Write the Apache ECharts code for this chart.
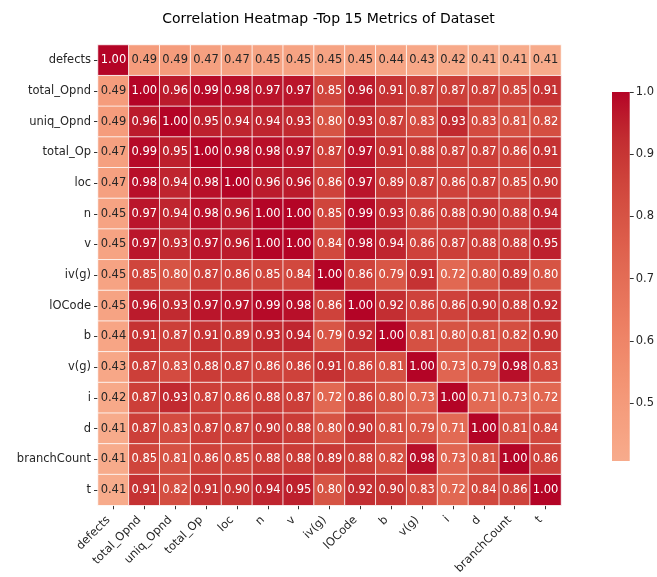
<!DOCTYPE html>
<html>
<head>
<meta charset="utf-8">
<script src="https://cdn.jsdelivr.net/npm/echarts@6/dist/echarts.min.js"></script>
<style>
  html, body { margin: 0; padding: 0; background: #fff; }
  #chart { width: 657px; height: 577px; }
</style>
</head>
<body>
<div id="chart"></div>
<script>
// Metric names, in the order used for both axes
const metrics = ['defects', 'total_Opnd', 'uniq_Opnd', 'total_Op', 'loc', 'n', 'v', 'iv(g)',
  'lOCode', 'b', 'v(g)', 'i', 'd', 'branchCount', 't'];

// Correlation matrix rows (row i = metrics[i])
const rowDefects     = [1.00, 0.49, 0.49, 0.47, 0.47, 0.45, 0.45, 0.45, 0.45, 0.44, 0.43, 0.42, 0.41, 0.41, 0.41];
const rowTotalOpnd   = [0.49, 1.00, 0.96, 0.99, 0.98, 0.97, 0.97, 0.85, 0.96, 0.91, 0.87, 0.87, 0.87, 0.85, 0.91];
const rowUniqOpnd    = [0.49, 0.96, 1.00, 0.95, 0.94, 0.94, 0.93, 0.80, 0.93, 0.87, 0.83, 0.93, 0.83, 0.81, 0.82];
const rowTotalOp     = [0.47, 0.99, 0.95, 1.00, 0.98, 0.98, 0.97, 0.87, 0.97, 0.91, 0.88, 0.87, 0.87, 0.86, 0.91];
const rowLoc         = [0.47, 0.98, 0.94, 0.98, 1.00, 0.96, 0.96, 0.86, 0.97, 0.89, 0.87, 0.86, 0.87, 0.85, 0.90];
const rowN           = [0.45, 0.97, 0.94, 0.98, 0.96, 1.00, 1.00, 0.85, 0.99, 0.93, 0.86, 0.88, 0.90, 0.88, 0.94];
const rowV           = [0.45, 0.97, 0.93, 0.97, 0.96, 1.00, 1.00, 0.84, 0.98, 0.94, 0.86, 0.87, 0.88, 0.88, 0.95];
const rowIvg         = [0.45, 0.85, 0.80, 0.87, 0.86, 0.85, 0.84, 1.00, 0.86, 0.79, 0.91, 0.72, 0.80, 0.89, 0.80];
const rowLOCode      = [0.45, 0.96, 0.93, 0.97, 0.97, 0.99, 0.98, 0.86, 1.00, 0.92, 0.86, 0.86, 0.90, 0.88, 0.92];
const rowB           = [0.44, 0.91, 0.87, 0.91, 0.89, 0.93, 0.94, 0.79, 0.92, 1.00, 0.81, 0.80, 0.81, 0.82, 0.90];
const rowVg          = [0.43, 0.87, 0.83, 0.88, 0.87, 0.86, 0.86, 0.91, 0.86, 0.81, 1.00, 0.73, 0.79, 0.98, 0.83];
const rowI           = [0.42, 0.87, 0.93, 0.87, 0.86, 0.88, 0.87, 0.72, 0.86, 0.80, 0.73, 1.00, 0.71, 0.73, 0.72];
const rowD           = [0.41, 0.87, 0.83, 0.87, 0.87, 0.90, 0.88, 0.80, 0.90, 0.81, 0.79, 0.71, 1.00, 0.81, 0.84];
const rowBranchCount = [0.41, 0.85, 0.81, 0.86, 0.85, 0.88, 0.88, 0.89, 0.88, 0.82, 0.98, 0.73, 0.81, 1.00, 0.86];
const rowT           = [0.41, 0.91, 0.82, 0.91, 0.90, 0.94, 0.95, 0.80, 0.92, 0.90, 0.83, 0.72, 0.84, 0.86, 1.00];

const matrix = [rowDefects, rowTotalOpnd, rowUniqOpnd, rowTotalOp, rowLoc, rowN, rowV, rowIvg,
  rowLOCode, rowB, rowVg, rowI, rowD, rowBranchCount, rowT];

// Colour scale range and colorbar tick labels
const scaleMin = 0.407;
const scaleMax = 1.0;
const colorbarTicks = [0.5, 0.6, 0.7, 0.8, 0.9, 1.0];

// Cool-warm diverging colour table (33 stops over [0, 1])
const coolwarm = [
  [59,76,192],[68,90,204],[77,104,215],[87,117,225],[98,130,234],[108,142,241],[119,154,247],
  [130,165,251],[141,176,254],[152,185,255],[163,194,255],[174,201,253],[184,208,249],
  [194,213,244],[204,217,238],[213,219,230],[221,221,221],[229,216,209],[236,211,197],
  [241,204,184],[245,196,172],[247,187,159],[247,177,147],[247,166,134],[244,154,122],
  [241,141,110],[236,127,99],[229,112,88],[222,96,77],[213,80,66],[203,62,56],[192,40,47],[180,4,38]
];
function coolwarmAt(s) {
  const p = Math.max(0, Math.min(1, s)) * (coolwarm.length - 1);
  const i = Math.min(coolwarm.length - 2, Math.floor(p));
  const f = p - i;
  const c = coolwarm[i].map((v, k) => Math.round(v + (coolwarm[i + 1][k] - v) * f));
  return 'rgb(' + c.join(',') + ')';
}
// Centered at 0: value v maps to position (v + 1) / 2 on the diverging table
const nStops = 24;
const scaleColors = [];
for (let k = 0; k <= nStops; k++) {
  const v = scaleMin + (scaleMax - scaleMin) * k / nStops;
  scaleColors.push(coolwarmAt((v + 1) / 2));
}

const heatData = [];
matrix.forEach((row, r) => {
  row.forEach((val, c) => {
    heatData.push({
      value: [c, r, val],
      label: { color: val < 0.6 ? '#262626' : '#ffffff' }
    });
  });
});

const font = 'DejaVu Sans';
const chart = echarts.init(document.getElementById('chart'), null, { renderer: 'canvas' });

chart.setOption({
  backgroundColor: '#ffffff',
  animation: false,
  title: {
    text: 'Correlation Heatmap -Top 15 Metrics of Dataset',
    left: 'center',
    top: 7,
    textStyle: { fontFamily: font, fontSize: 14, fontWeight: 'normal', color: '#000' }
  },
  grid: [
    { left: 98, top: 45, width: 463, height: 464 },
    { left: 612, top: 92, width: 19, height: 369 }
  ],
  xAxis: [
    {
      gridIndex: 0, type: 'category', data: metrics, position: 'bottom',
      axisLine: { show: false },
      axisTick: { show: true, alignWithLabel: true, length: 4, lineStyle: { color: '#333' } },
      axisLabel: {
        rotate: 45, margin: 8, interval: 0, padding: [0, 7, 0, 0],
        fontFamily: font, fontSize: 11.5, color: '#262626'
      },
      splitLine: { show: false }
    },
    {
      gridIndex: 1, type: 'category', data: [''], show: false
    }
  ],
  yAxis: [
    {
      gridIndex: 0, type: 'category', data: metrics, inverse: true,
      axisLine: { show: false },
      axisTick: { show: true, alignWithLabel: true, length: 4, lineStyle: { color: '#333' } },
      axisLabel: { margin: 7, interval: 0, fontFamily: font, fontSize: 11.5, color: '#262626' },
      splitLine: { show: false }
    },
    {
      gridIndex: 1, type: 'value', min: scaleMin, max: scaleMax, position: 'right',
      axisLine: { show: false },
      axisTick: { show: true, length: 4, customValues: colorbarTicks, lineStyle: { color: '#333' } },
      axisLabel: {
        customValues: colorbarTicks, margin: 6, fontFamily: font, fontSize: 11.5, color: '#262626',
        formatter: v => Number(v).toFixed(1)
      },
      splitLine: { show: false }
    }
  ],
  visualMap: {
    show: false,
    type: 'continuous',
    seriesIndex: 0,
    dimension: 2,
    min: scaleMin,
    max: scaleMax,
    inRange: { color: scaleColors }
  },
  series: [
    {
      type: 'heatmap',
      xAxisIndex: 0, yAxisIndex: 0,
      data: heatData,
      itemStyle: { borderColor: '#ffffff', borderWidth: 0.8 },
      label: {
        show: true,
        fontFamily: font,
        fontSize: 11.5,
        formatter: p => p.value[2].toFixed(2)
      },
      emphasis: { disabled: true }
    },
    {
      // colorbar strip spanning the colour scale
      type: 'custom',
      xAxisIndex: 1, yAxisIndex: 1,
      data: [[0, scaleMin, scaleMax]],
      silent: true,
      renderItem: (params, api) => {
        const top = api.coord([api.value(0), api.value(2)]);
        const bottom = api.coord([api.value(0), api.value(1)]);
        const w = api.size([1, 0])[0];
        return {
          type: 'rect',
          shape: { x: top[0] - w / 2, y: top[1], width: w, height: bottom[1] - top[1] },
          style: {
            fill: new echarts.graphic.LinearGradient(0, 1, 0, 0,
              scaleColors.map((c, k) => ({ offset: k / (scaleColors.length - 1), color: c })))
          }
        };
      }
    }
  ]
});
</script>
</body>
</html>
